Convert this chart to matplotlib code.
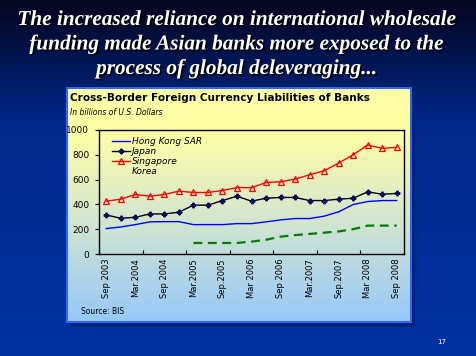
import numpy as np
import matplotlib
matplotlib.use("Agg")
import matplotlib.pyplot as plt
from matplotlib.lines import Line2D
from matplotlib.patches import Rectangle
import matplotlib.patheffects as pe

# ---------------- data ----------------
tick_labels = ["Sep 2003", "Mar.2004", "Sep 2004", "Mar.2005", "Sep.2005", "Mar 2006",
               "Sep 2006", "Mar.2007", "Sep.2007", "Mar 2008", "Sep 2008"]
n_quarters = 21
hong_kong = [205, 218, 237, 259, 261, 261, 237, 237, 237, 245, 245, 259, 275, 286, 286,
             305, 340, 399, 423, 431, 431]
japan = [315, 288, 296, 323, 323, 337, 394, 394, 431, 466, 426, 450, 456, 456, 431,
         431, 442, 450, 501, 482, 488]
singapore = [426, 442, 480, 466, 480, 507, 496, 496, 512, 536, 534, 577, 582, 604, 639,
             671, 733, 800, 879, 852, 860]
korea = [np.nan] * 6 + [89, 89, 89, 89, 100, 115, 140, 152, 162, 172, 182, 200, 229, 229, 229]

title_lines = ["The increased reliance on international wholesale",
               "funding made Asian banks more exposed to the",
               "process of global deleveraging..."]

W, H = 476, 356
fig = plt.figure(figsize=(W / 100, H / 100), dpi=100)

def fx(px):
    return px / W

def fy(py):
    return 1 - py / H

# slide background gradient
bg = fig.add_axes([0, 0, 1, 1], zorder=-10)
t = np.linspace(0, 1, 256)[:, None]
top = np.array([5, 5, 30]) / 255
mid = np.array([0, 40, 140]) / 255
bot = np.array([0, 50, 160]) / 255
col = np.where(t < 0.35, top + (mid - top) * (t / 0.35),
               mid + (bot - mid) * ((t - 0.35) / 0.65))
img = np.repeat(col[:, None, :], 2, axis=1).reshape(256, 2, 3)
bg.imshow(img, aspect="auto", extent=[0, 1, 0, 1], origin="upper")
bg.set_xlim(0, 1)
bg.set_ylim(0, 1)
bg.axis("off")

# chart box shadow
bg.add_patch(Rectangle((fx(71), fy(327)), fx(344), (327 - 92) / H,
                       facecolor=(0, 35 / 255, 120 / 255), edgecolor="none",
                       transform=fig.transFigure))

# chart box with gradient
bx0, by0, bx1, by1 = 67, 88, 411, 322
box = fig.add_axes([fx(bx0), fy(by1), fx(bx1 - bx0), (by1 - by0) / H], zorder=-5)
tt = np.linspace(0, 1, 256)[:, None]
c_top = np.array([255, 255, 165]) / 255
c_mid = np.array([220, 234, 200]) / 255
c_bot = np.array([150, 200, 250]) / 255
bcol = np.where(tt < 0.18, c_top,
                np.where(tt < 0.5, c_top + (c_mid - c_top) * ((tt - 0.18) / 0.32),
                         c_mid + (c_bot - c_mid) * ((tt - 0.5) / 0.5)))
bimg = np.repeat(bcol[:, None, :], 2, axis=1).reshape(256, 2, 3)
box.imshow(bimg, aspect="auto", extent=[0, 1, 0, 1], origin="upper")
box.set_xlim(0, 1)
box.set_ylim(0, 1)
box.set_xticks([])
box.set_yticks([])
for s in box.spines.values():
    s.set_color("#3366ff")
    s.set_linewidth(1.5)

# plot area
px0, py0, px1, py1 = 99, 130, 404, 254
ax = fig.add_axes([fx(px0), fy(py1), fx(px1 - px0), (py1 - py0) / H])
ax.patch.set_alpha(0)
x = np.arange(n_quarters)

ax.plot(x, hong_kong, color="#0000ff", lw=1.0, label="Hong Kong SAR")
ax.plot(x, japan, color="black", lw=1.0, marker="P", ms=3.3, mfc="#0a0a60",
        mec="#0a0a60", label="Japan")
ax.plot(x, singapore, color="#ff0000", lw=1.0, marker="^", ms=4, mfc="none",
        mec="#ff0000", mew=0.9, label="Singapore")
ax.plot(x, korea, color="#008000", lw=1.6, ls=(0, (4, 2.5)), label="_Korea")

ax.set_xlim(-0.5, n_quarters - 0.5)
ax.set_ylim(0, 1000)
ax.set_yticks(np.arange(0, 1001, 200))
ax.set_xticks(np.arange(0, n_quarters, 2))
ax.set_xticklabels(tick_labels, rotation=90, fontsize=6)
ax.set_xticks(np.arange(-0.5, n_quarters, 3), minor=True)
ax.tick_params(axis="x", which="major", length=0, pad=3)
ax.tick_params(axis="x", which="minor", direction="in", length=3, width=0.8)
ax.tick_params(axis="y", which="major", direction="out", length=3, width=0.8,
               labelsize=6.5, pad=4)
for s in ax.spines.values():
    s.set_color("black")
    s.set_linewidth(1.0)

handles, labels = ax.get_legend_handles_labels()
handles.append(Line2D([], [], color="none"))
labels.append("Korea")
leg = ax.legend(handles, labels, loc="upper left", bbox_to_anchor=(0.03, 0.97),
                frameon=False, fontsize=6.5, handlelength=2.0, handletextpad=0.2,
                labelspacing=0.1, borderaxespad=0)
for txt in leg.get_texts():
    txt.set_fontstyle("italic")

# chart texts
fig.text(fx(70), fy(98), "Cross-Border Foreign Currency Liabilities of Banks",
         fontsize=7.6, fontweight="bold", ha="left", va="center", color="black")
fig.text(fx(70), fy(113), "In billions of U.S. Dollars", fontsize=5.5,
         fontstyle="italic", ha="left", va="center", color="black")
fig.text(fx(81), fy(312), "Source: BIS", fontsize=5.5, ha="left", va="center",
         color="black")

# slide title with drop shadow (path effect)
shadow = [pe.SimplePatchShadow(offset=(1.2, -1.2), shadow_rgbFace=(0, 0, 0), alpha=1.0),
          pe.Normal()]
for i, line in enumerate(title_lines):
    fig.text(0.497, fy(20 + 24.5 * i), line, fontsize=15.3, family="Liberation Serif",
             fontweight="bold", fontstyle="italic", color="white", ha="center",
             va="center", path_effects=shadow)

fig.text(fx(442), fy(342), "17", fontsize=5, color="white", ha="center", va="center")

fig.savefig("out.png", dpi=100)
